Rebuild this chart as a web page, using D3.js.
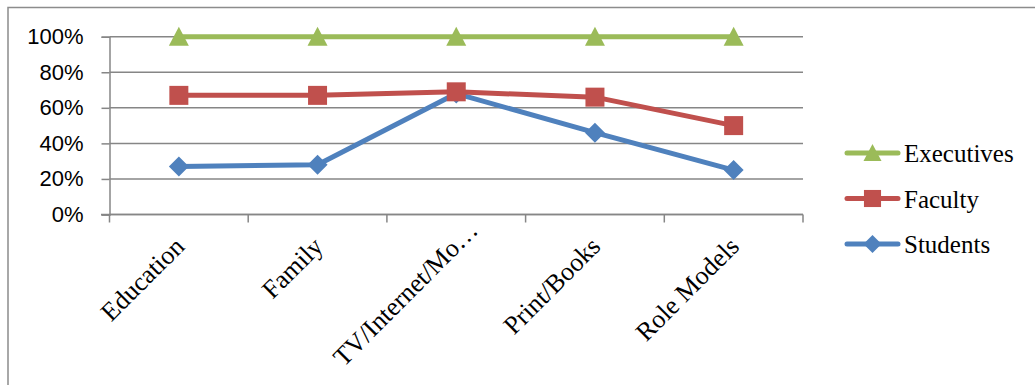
<!DOCTYPE html>
<html>
<head>
<meta charset="utf-8">
<script src="https://cdn.jsdelivr.net/npm/d3@7"></script>
<style>
  html, body { margin: 0; padding: 0; background: #fff; }
  svg { display: block; }
</style>
</head>
<body>
<svg id="chart" width="1035" height="385"></svg>
<script>
// Categories and series (percent)
const categories = ["Education", "Family", "TV/Internet/Mo\u2026", "Print/Books", "Role Models"];
const executives = [100, 100, 100, 100, 100];
const faculty = [67, 67, 69, 66, 50];
const students = [27, 28, 68, 46, 25];
const yTicks = [0, 20, 40, 60, 80, 100];
const seriesNames = ["Executives", "Faculty", "Students"];

const svg = d3.select("#chart");
const gridColor = "#868686";

// outer frame (runs off the right and bottom edges)
svg.append("rect")
  .attr("x", 8).attr("y", 7.5)
  .attr("width", 1100).attr("height", 500)
  .attr("fill", "none").attr("stroke", "#8c8c8c").attr("stroke-width", 1.5);

const x = d3.scaleBand().domain(categories).range([109.5, 803]).padding(0);
const y = d3.scaleLinear().domain([0, 100]).range([214.5, 36.7]);
const xEnd = x.range()[1];

// horizontal gridlines
svg.append("g").selectAll("line").data(yTicks).join("line")
  .attr("x1", 109.5).attr("x2", xEnd)
  .attr("y1", d => y(d)).attr("y2", d => y(d))
  .attr("stroke", gridColor).attr("stroke-width", 1.5);

// y axis with outward ticks and percent labels
const yAxis = svg.append("g")
  .attr("transform", "translate(109.5,0)")
  .call(d3.axisLeft(y).tickValues(yTicks).tickSize(8).tickPadding(18)
    .tickFormat(d => d + "%"));
yAxis.select(".domain").attr("stroke", gridColor).attr("stroke-width", 1.5);
yAxis.selectAll(".tick line").attr("stroke", gridColor).attr("stroke-width", 1.5);
yAxis.selectAll(".tick text")
  .attr("font-family", "'Liberation Sans', Arial, sans-serif")
  .attr("font-size", 22).attr("fill", "#000");

// x axis baseline and ticks at category boundaries
const x0 = svg.append("g");
x0.append("line")
  .attr("x1", 101).attr("x2", xEnd)
  .attr("y1", y(0)).attr("y2", y(0))
  .attr("stroke", gridColor).attr("stroke-width", 1.5);
const bounds = categories.map(c => x(c)).concat([xEnd]);
x0.selectAll("line.tk").data(bounds).join("line").attr("class", "tk")
  .attr("x1", d => d).attr("x2", d => d)
  .attr("y1", y(0)).attr("y2", y(0) + 8)
  .attr("stroke", gridColor).attr("stroke-width", 1.5);

// rotated category labels, ending at each category centre
svg.append("g").selectAll("text").data(categories).join("text")
  .attr("transform", d => `translate(${x(d) + x.bandwidth() / 2 + 7},248) rotate(-45)`)
  .attr("text-anchor", "end")
  .attr("dx", d => d.endsWith("\u2026") ? 23 : 0)
  .attr("font-family", "'Liberation Serif', 'Times New Roman', serif")
  .attr("font-size", 26).attr("fill", "#000")
  .text(d => d);

// marker shapes
const markers = {
  triangle: "M0,-10L10,9L-10,9Z",
  square: "M-9.5,-9.5H9.5V9.5H-9.5Z",
  diamond: "M0,-10L10,0L0,10L-10,0Z"
};

const series = [
  { name: "Students", values: students, color: "#4F81BD", marker: markers.diamond },
  { name: "Faculty", values: faculty, color: "#C0504D", marker: markers.square },
  { name: "Executives", values: executives, color: "#9BBB59", marker: markers.triangle }
];

const line = d3.line()
  .x((d, i) => x(categories[i]) + x.bandwidth() / 2)
  .y(d => y(d));

// draw series in order: students, faculty, executives on top
series.forEach(s => {
  const g = svg.append("g");
  g.append("path")
    .attr("d", line(s.values))
    .attr("fill", "none").attr("stroke", s.color)
    .attr("stroke-width", 5).attr("stroke-linejoin", "round").attr("stroke-linecap", "round");
  g.selectAll("path.mk").data(s.values).join("path").attr("class", "mk")
    .attr("transform", (d, i) => `translate(${x(categories[i]) + x.bandwidth() / 2},${y(d)})`)
    .attr("d", s.marker)
    .attr("fill", s.color);
});

// legend
const legend = svg.append("g");
seriesNames.forEach((name, i) => {
  const s = series.find(t => t.name === name);
  const ly = 153 + i * 45.5;
  legend.append("line")
    .attr("x1", 847).attr("x2", 898).attr("y1", ly).attr("y2", ly)
    .attr("stroke", s.color).attr("stroke-width", 5).attr("stroke-linecap", "round");
  legend.append("path")
    .attr("transform", `translate(872.5,${ly}) scale(0.9)`)
    .attr("d", s.marker).attr("fill", s.color);
  legend.append("text")
    .attr("x", 904).attr("y", ly + 9)
    .attr("font-family", "'Liberation Serif', 'Times New Roman', serif")
    .attr("font-size", 25).attr("fill", "#000")
    .text(name);
});
</script>
</body>
</html>
